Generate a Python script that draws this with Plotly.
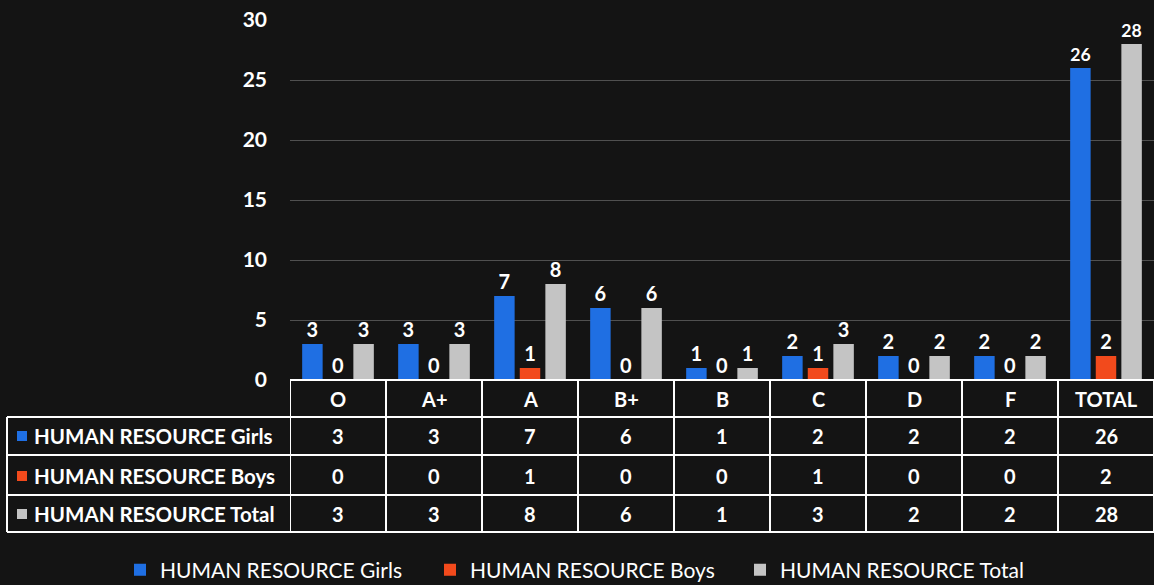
import plotly.graph_objects as go

categories = ["O", "A+", "A", "B+", "B", "C", "D", "F", "TOTAL"]
girls = [3, 3, 7, 6, 1, 2, 2, 2, 26]
boys = [0, 0, 1, 0, 0, 1, 0, 0, 2]
total = [3, 3, 8, 6, 1, 3, 2, 2, 28]
series_names = ["HUMAN RESOURCE Girls", "HUMAN RESOURCE Boys", "HUMAN RESOURCE Total"]
series_values = [girls, boys, total]
colors = ["#1f6fe3", "#f24a1c", "#c4c4c4"]
y_ticks = [0, 5, 10, 15, 20, 25, 30]

W, H = 1154, 585
def py(px):
    return 1 - px / H
def pxx(px):
    return px / W

FONT = "Lato"
fig = go.Figure()
for name, vals, c in zip(series_names, series_values, colors):
    fig.add_trace(go.Bar(
        x=categories, y=vals, name=name, marker=dict(color=c, line=dict(width=0)),
        texttemplate="%{y}", textposition="outside", cliponaxis=False,
        textfont=dict(color="white", size=20, family=FONT, weight="bold"),
    ))

shapes = []
annots = []
line = dict(color="white", width=2)
row_tops = [380, 417, 455, 495, 532]
shapes.append(dict(type="line", xref="paper", yref="paper", x0=pxx(290), x1=1, y0=py(380), y1=py(380), line=line))
for r in row_tops[1:]:
    shapes.append(dict(type="line", xref="paper", yref="paper", x0=pxx(7), x1=1, y0=py(r), y1=py(r), line=line))
shapes.append(dict(type="line", xref="paper", yref="paper", x0=pxx(7), x1=pxx(7), y0=py(417), y1=py(532), line=line))
for i in range(len(categories) + 1):
    shapes.append(dict(type="line", xref="x", yref="paper", x0=i - 0.5, x1=i - 0.5, y0=py(380), y1=py(532), line=line))

cell_font = dict(color="white", size=20, family=FONT, weight="bold")
for cat in categories:
    annots.append(dict(x=cat, xref="x", xanchor="center", y=py(399), yref="paper", yanchor="middle",
                       text=cat, showarrow=False, font=cell_font))
row_centers = [436, 476, 514]
for name, vals, c, yc in zip(series_names, series_values, colors, row_centers):
    for cat, v in zip(categories, vals):
        annots.append(dict(x=cat, xref="x", xanchor="center", y=py(yc), yref="paper", yanchor="middle",
                           text=str(v), showarrow=False, font=cell_font))
    shapes.append(dict(type="rect", xref="paper", yref="paper", x0=pxx(17), x1=pxx(27),
                       y0=py(yc + 5), y1=py(yc - 5), fillcolor=c, line=dict(width=0)))
    annots.append(dict(x=pxx(32), xref="paper", xanchor="left", y=py(yc), yref="paper", yanchor="middle",
                       text=name, showarrow=False,
                       font=dict(color="white", size=20.5, family=FONT, weight="bold")))

fig.update_layout(
    width=W, height=H,
    paper_bgcolor="#141414", plot_bgcolor="#141414",
    margin=dict(l=0, r=0, t=0, b=0, autoexpand=False),
    barmode="group", bargap=0.2, bargroupgap=0.2,
    font=dict(family=FONT, color="white"),
    xaxis=dict(domain=[pxx(290), 1], type="category", showticklabels=False, showgrid=False,
               zeroline=False, range=[-0.5, len(categories) - 0.5], automargin=False),
    yaxis=dict(domain=[py(380), py(20)], range=[0, 30], tickvals=y_ticks, showgrid=True,
               gridcolor="#505050", gridwidth=1, zeroline=False, ticklabelstandoff=22,
               automargin=False,
               tickfont=dict(color="white", size=21, family=FONT, weight="bold")),
    legend=dict(orientation="h", x=pxx(120), xanchor="left", y=py(570), yanchor="middle",
                font=dict(color="white", size=21, family=FONT), bgcolor="rgba(0,0,0,0)",
                entrywidth=265, itemwidth=30),
    shapes=shapes, annotations=annots,
)
fig.write_html("out.html", config={"displayModeBar": False},
               post_script="document.body.style.margin='0';document.body.style.overflow='hidden';")
